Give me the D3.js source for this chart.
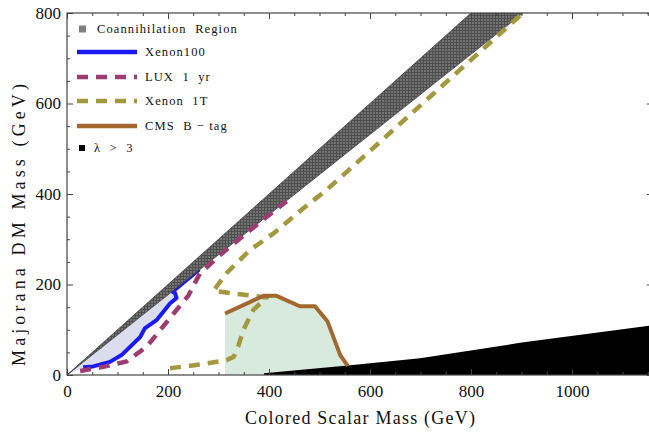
<!DOCTYPE html>
<html>
<head>
<meta charset="utf-8">
<script src="https://cdn.jsdelivr.net/npm/d3@7"></script>
<style>
  body { margin: 0; background: #fff; }
  svg text { font-family: "Liberation Serif", "Times New Roman", Times, serif; fill: #111; }
</style>
</head>
<body>
<svg id="chart" width="649" height="433"></svg>
<script>
// data, [colored scalar mass, DM mass] in GeV
const bandUpper = [[0, 0], [800, 800]];
const bandLower = [[0, 0], [903, 800]];
const xenon100 = [[32, 17], [52, 19], [85, 29], [108, 44], [145, 84], [154, 103], [178, 122],
                  [204, 158], [217, 170], [214, 181], [209, 184], [240, 213], [262, 233]];
const xenon100Fill = [[0, 0], [32, 17], [52, 19], [85, 29], [108, 44], [145, 84], [154, 103],
                      [178, 122], [204, 158], [217, 170], [214, 181], [209, 184]];
const lux1yr = [[26, 9], [72, 18], [118, 30], [158, 63], [185, 100], [212, 137], [240, 175],
                [263, 224], [303, 265], [343, 302], [389, 344], [435, 384]];
const xenon1T = [[204, 15], [263, 23], [316, 33], [330, 40], [339, 63], [349, 99], [369, 144],
                 [395, 171], [290, 186], [316, 225], [362, 276], [409, 313], [461, 362],
                 [514, 409], [554, 449], [903, 800]];
const cmsBtag = [[313, 136], [389, 175], [415, 175], [461, 152], [491, 152], [516, 118],
                 [541, 44], [556, 20]];
const lambdaEdge = [[390, 4], [556, 21], [699, 37], [897, 71], [1160, 110]];

const xTicks = [0, 200, 400, 600, 800, 1000];
const yTicks = [0, 200, 400, 600, 800];
const legendLabels = ['Coannihilation  Region', 'Xenon100', 'LUX  1  yr', 'Xenon  1T', 'CMS  B \u2212 tag', '\u03bb  >  3'];

const serif = '"Liberation Serif", "Times New Roman", Times, serif';
const svg = d3.select('#chart');
const x = d3.scaleLinear().domain([0, 1160]).range([67, 652.8]);
const y = d3.scaleLinear().domain([0, 800]).range([375, 13]);

const defs = svg.append('defs');
const pat = defs.append('pattern')
  .attr('id', 'hatch')
  .attr('width', 3).attr('height', 3)
  .attr('patternUnits', 'userSpaceOnUse');
pat.append('rect').attr('width', 3).attr('height', 3).attr('fill', '#737373');
pat.append('path').attr('d', 'M0,0.5H3M0.5,0V3').attr('stroke', '#4e4e4e').attr('stroke-width', 1);
defs.append('clipPath').attr('id', 'clip')
  .append('rect').attr('x', 67).attr('y', 13).attr('width', 652.8 - 67).attr('height', 375 - 13);

const line = d3.line().x(d => x(d[0])).y(d => y(d[1]));
const plot = svg.append('g').attr('clip-path', 'url(#clip)');

// CMS exclusion fill
const cmsFill = [[313, 0]].concat(cmsBtag, [[556, 0]]);
plot.append('path').attr('d', line(cmsFill) + 'Z').attr('fill', '#d7eadd');
// Xenon100 exclusion fill
plot.append('path').attr('d', line(xenon100Fill) + 'Z').attr('fill', '#dcdcef');
// lambda > 3
const lambdaFill = [[390, 0]].concat(lambdaEdge, [[1160, 0]]);
plot.append('path').attr('d', line(lambdaFill) + 'Z').attr('fill', '#000');

plot.append('path').attr('d', line(xenon100))
  .attr('fill', 'none').attr('stroke', '#1a1af2').attr('stroke-width', 4).attr('stroke-linejoin', 'round');

// coannihilation band
const band = bandUpper.concat(bandLower.slice().reverse());
plot.append('path').attr('d', line(band) + 'Z')
  .attr('fill', 'url(#hatch)').attr('stroke', '#3c3c3c').attr('stroke-width', 0.8);

plot.append('path').attr('d', line(lux1yr))
  .attr('fill', 'none').attr('stroke', '#9d3b72').attr('stroke-width', 4.5)
  .attr('stroke-dasharray', '11,8');
plot.append('path').attr('d', line(xenon1T))
  .attr('fill', 'none').attr('stroke', '#a2983d').attr('stroke-width', 4.5)
  .attr('stroke-dasharray', '11,8');
plot.append('path').attr('d', line(cmsBtag))
  .attr('fill', 'none').attr('stroke', '#a3682f').attr('stroke-width', 4).attr('stroke-linejoin', 'round');

// axes
const minorX = d3.range(0, 1160, 50).filter(v => v % 200 !== 0);
const minorY = d3.range(0, 800, 50).filter(v => v % 200 !== 0);
function styleAxis(g) {
  g.attr('font-family', serif);
  g.select('.domain').remove();
  g.selectAll('line').attr('stroke', '#444');
  g.selectAll('text').attr('font-size', 17).attr('fill', '#111').attr('font-family', serif);
}
const fmt = d3.format('d');
svg.append('g').attr('transform', 'translate(0,375)')
  .call(d3.axisBottom(x).tickValues(xTicks).tickFormat(fmt).tickSize(-6).tickPadding(10)).call(styleAxis);
svg.append('g').attr('transform', 'translate(0,375)')
  .call(d3.axisBottom(x).tickValues(minorX).tickSize(-3).tickFormat('')).call(styleAxis);
svg.append('g').attr('transform', 'translate(0,13)')
  .call(d3.axisTop(x).tickValues(xTicks).tickSize(-6).tickFormat('')).call(styleAxis);
svg.append('g').attr('transform', 'translate(0,13)')
  .call(d3.axisTop(x).tickValues(minorX).tickSize(-3).tickFormat('')).call(styleAxis);
svg.append('g').attr('transform', 'translate(67,0)')
  .call(d3.axisLeft(y).tickValues(yTicks).tickFormat(fmt).tickSize(-6).tickPadding(6)).call(styleAxis);
svg.append('g').attr('transform', 'translate(67,0)')
  .call(d3.axisLeft(y).tickValues(minorY).tickSize(-3).tickFormat('')).call(styleAxis);
svg.append('g').attr('transform', `translate(${x(1160)},0)`)
  .call(d3.axisRight(y).tickValues(yTicks).tickSize(-6).tickFormat('')).call(styleAxis);
svg.append('g').attr('transform', `translate(${x(1160)},0)`)
  .call(d3.axisRight(y).tickValues(minorY).tickSize(-3).tickFormat('')).call(styleAxis);

svg.append('rect').attr('x', 67).attr('y', 13).attr('width', x(1160) - 67).attr('height', 362)
  .attr('fill', 'none').attr('stroke', '#444').attr('stroke-width', 1.2);

// axis titles
svg.append('text').attr('x', 360).attr('y', 424).attr('text-anchor', 'middle')
  .attr('font-family', serif).attr('font-size', 18)
  .attr('textLength', 230).attr('lengthAdjust', 'spacing')
  .text('Colored Scalar Mass (GeV)');
svg.append('text').attr('transform', 'translate(25,225) rotate(-90)').attr('text-anchor', 'middle')
  .attr('font-family', serif).attr('font-size', 18)
  .attr('textLength', 282).attr('lengthAdjust', 'spacing')
  .text('Majorana DM Mass (GeV)');

// legend
const legY = [29, 52, 77, 101, 126, 148];
const leg = svg.append('g');
leg.append('rect').attr('x', 79).attr('y', legY[0] - 3.5).attr('width', 7).attr('height', 7).attr('fill', '#808080');
const legStyles = [
  { c: '#1a1af2', dash: null },
  { c: '#9d3b72', dash: '11,8' },
  { c: '#a2983d', dash: '11,8' },
  { c: '#a3682f', dash: null }
];
legStyles.forEach((s, i) => {
  leg.append('line').attr('x1', 77).attr('x2', 137).attr('y1', legY[i + 1]).attr('y2', legY[i + 1])
    .attr('stroke', s.c).attr('stroke-width', 4.5).attr('stroke-dasharray', s.dash);
});
leg.append('rect').attr('x', 79).attr('y', legY[5] - 3).attr('width', 6).attr('height', 6).attr('fill', '#000');
legendLabels.forEach((t, i) => {
  leg.append('text')
    .attr('x', i === 0 ? 97 : (i === 5 ? 94 : 145))
    .attr('y', legY[i] + 4)
    .attr('font-family', serif)
    .attr('font-size', 12.5)
    .attr('letter-spacing', 1.1)
    .attr('xml:space', 'preserve')
    .style('white-space', 'pre')
    .text(t);
});
</script>
</body>
</html>
